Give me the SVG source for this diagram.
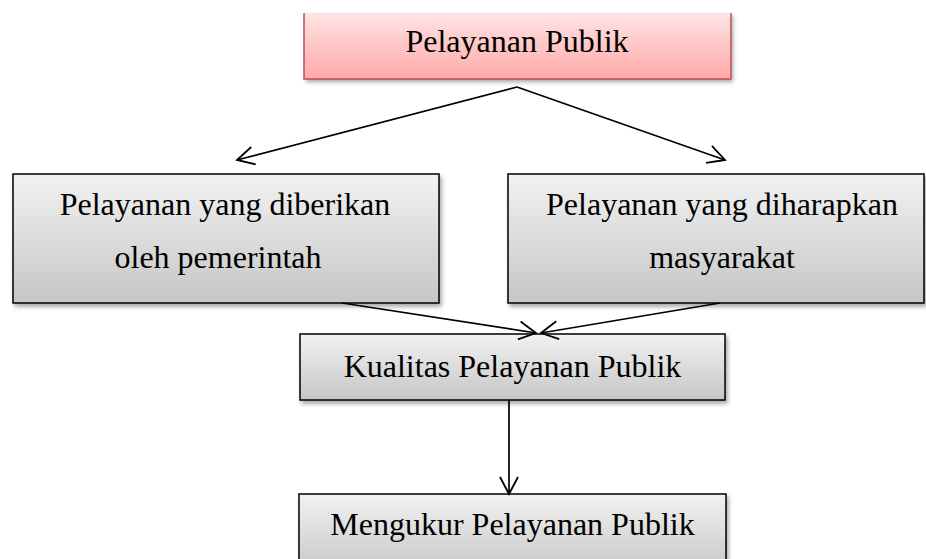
<svg xmlns="http://www.w3.org/2000/svg" width="926" height="559" viewBox="0 0 926 559">
<defs>
<linearGradient id="gGray" x1="0" y1="0" x2="0" y2="1">
<stop offset="0" stop-color="#f2f2f2"/>
<stop offset="1" stop-color="#c6c6c6"/>
</linearGradient>
<linearGradient id="gPink" x1="0" y1="0" x2="0" y2="1">
<stop offset="0" stop-color="#ffe4e4"/>
<stop offset="1" stop-color="#ffa9a8"/>
</linearGradient>
<filter id="sh" x="-5%" y="-10%" width="112%" height="130%">
<feDropShadow dx="2" dy="3" stdDeviation="2" flood-color="#000" flood-opacity="0.35"/>
</filter>
<marker id="arr" viewBox="0 0 24 24" refX="21" refY="12" markerWidth="24" markerHeight="24" markerUnits="userSpaceOnUse" orient="auto">
<path d="M4,3 L21,12 L4,21" fill="none" stroke="#000" stroke-width="1.8"/>
</marker>
</defs>
<style>
.box{fill:url(#gGray);stroke:#000;stroke-width:1.5;filter:url(#sh)}
.t{font-family:"Liberation Serif","Times New Roman",serif;font-size:32px;fill:#000;text-anchor:middle}
.c{fill:none;stroke:#000;stroke-width:1.7;marker-end:url(#arr)}
</style>
<g id="n-top">
<rect x="304" y="13" width="427" height="66" fill="url(#gPink)" filter="url(#sh)"/>
<path d="M304,13 V79 H731 V13" fill="none" stroke="#c0504d" stroke-width="1.5"/>
<text class="t" x="517" y="52">Pelayanan Publik</text>
</g>
<g id="n-left">
<rect class="box" x="13" y="174" width="426" height="129"/>
<text class="t" x="225" y="215">Pelayanan yang diberikan</text>
<text class="t" x="218" y="268">oleh pemerintah</text>
</g>
<g id="n-right">
<rect class="box" x="508" y="174" width="416" height="129"/>
<text class="t" x="722" y="215">Pelayanan yang diharapkan</text>
<text class="t" x="722" y="268">masyarakat</text>
</g>
<g id="n-mid">
<rect class="box" x="300" y="334" width="425" height="66"/>
<text class="t" x="512.5" y="377">Kualitas Pelayanan Publik</text>
</g>
<g id="n-bottom">
<rect class="box" x="299" y="494" width="427" height="80"/>
<text class="t" x="512.5" y="535">Mengukur Pelayanan Publik</text>
</g>
<g id="connectors">
<line class="c" x1="517" y1="87" x2="237" y2="160"/>
<line class="c" x1="517" y1="87" x2="725" y2="160"/>
<line class="c" x1="342" y1="303" x2="536" y2="333"/>
<line class="c" x1="720" y1="303" x2="541" y2="333"/>
<line class="c" x1="509" y1="400" x2="509" y2="494"/>
</g>
</svg>
